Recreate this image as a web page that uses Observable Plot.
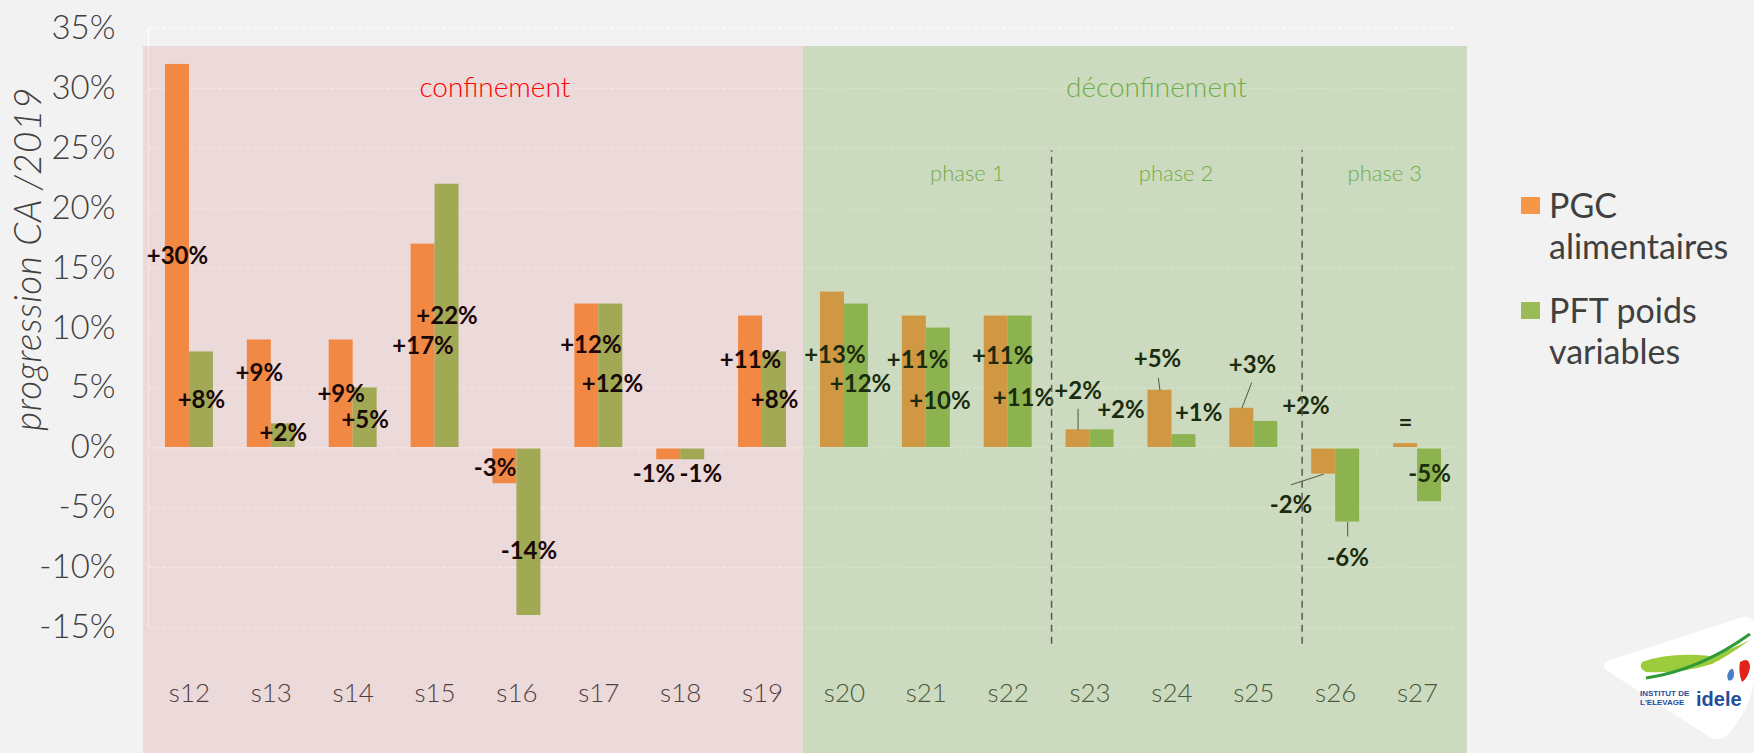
<!DOCTYPE html>
<html>
<head>
<meta charset="utf-8">
<script src="https://cdn.jsdelivr.net/npm/d3@7"></script>
<script src="https://cdn.jsdelivr.net/npm/@observablehq/plot@0.6"></script>
<style>
  html, body { margin: 0; padding: 0; background: #f2f2f2; }
  #wrap { position: relative; width: 1754px; height: 753px; overflow: hidden; background: #f2f2f2; font-family: Lato, "Open Sans", sans-serif; }
  #chart { position: absolute; left: 0; top: 0; }
  #ylabel { position: absolute; left: 26px; top: 259px; transform: translate(-50%, -50%) rotate(-90deg); white-space: nowrap;
            font-size: 37px; letter-spacing: 0.5px; font-style: italic; font-weight: 300; color: #404040; }
  .leg { position: absolute; left: 1521px; font-size: 34px; line-height: 41px; color: #404040; }
  .leg .sw { position: absolute; left: 0; width: 19px; height: 17px; }
  .leg .tx { position: absolute; left: 28px; white-space: nowrap; }
  #logo { position: absolute; left: 1600px; top: 612px; }
</style>
</head>
<body>
<div id="wrap">
  <div id="chart"></div>
  <div id="ylabel">progression CA /2019</div>
  <div id="legend"></div>
  <svg id="logo" width="154" height="135" viewBox="0 0 154 135">
    <path d="M6 58 Q0 52 10 48 L140 6 Q154 2 154 14 L154 70 Q150 96 130 120 Q120 132 108 124 Z" fill="#ffffff"/>
    <path d="M42 50 Q70 40 110 44 Q130 38 150 28 Q128 44 112 52 Q80 62 46 60 Q38 56 42 50 Z" fill="#9ccb3b"/>
    <path d="M46 66 Q100 58 150 22" stroke="#2e9a3a" stroke-width="3" fill="none"/>
    <path d="M140 50 Q150 44 150 56 Q148 66 142 70 Q138 60 140 50 Z" fill="#e2231a"/>
    <path d="M130 58 Q134 54 134 64 Q132 70 128 68 Q126 62 130 58 Z" fill="#4a7cc2"/>
    <text x="40" y="84" font-family="Liberation Sans, Arial, sans-serif" font-size="8" font-weight="700" fill="#1f4e9c">INSTITUT DE</text>
    <text x="40" y="93" font-family="Liberation Sans, Arial, sans-serif" font-size="8" font-weight="700" fill="#1f4e9c">L'ELEVAGE</text>
    <text x="96" y="94" font-family="Liberation Sans, Arial, sans-serif" font-size="20" font-weight="700" fill="#1f4e9c">idele</text>
  </svg>
</div>
<script>
// ---- data ----
const weeks = ["s12","s13","s14","s15","s16","s17","s18","s19","s20","s21","s22","s23","s24","s25","s26","s27"];
const seriesNames = ["PGC alimentaires", "PFT poids variables"];
const seriesColors = ["#f79646", "#9bbb59"];
const pgcValues = [32, 9, 9, 17, -3, 12, -1, 11, 13, 11, 11, 1.5, 4.8, 3.3, -2.2, 0.35];
const pftValues = [8, 2, 5, 22, -14, 12, -1, 8, 12, 10, 11, 1.5, 1.1, 2.2, -6.2, -4.5];
const pgcLabels = ["+30%","+9%","+9%","+17%","-3%","+12%","-1%","+11%","+13%","+11%","+11%","+2%","+5%","+3%","-2%","="];
const pftLabels = ["+8%","+2%","+5%","+22%","-14%","+12%","-1%","+8%","+12%","+10%","+11%","+2%","+1%","+2%","-6%","-5%"];
const yTicks = [-15, -10, -5, 0, 5, 10, 15, 20, 25, 30, 35];

// periods (by week range) and sub-phases
const periods = [
  {name: "confinement", first: "s12", last: "s19", tint: "rgb(204,57,65)", tintOpacity: 0.13, textColor: "#ff0000", labelAt: 3.73},
  {name: "déconfinement", first: "s20", last: "s27", tint: "rgb(105,160,57)", tintOpacity: 0.27, textColor: "#70ad47", labelAt: 11.81}
];
const subPhases = [{name: "phase 1", at: 9.5}, {name: "phase 2", at: 12.05}, {name: "phase 3", at: 14.6}];
const phaseBreaks = [10.53, 13.59];

// manual label nudges: [weeks, % points]
const pgcNudge = [[0,0],[0,1.68],[0,0],[0,0],[-0.12,-0.25],[0.05,2.55],[-0.18,-1.75],[0,1.84],[0.03,1.26],[0.04,1.84],[0.08,2.1],[0,4.0],[-0.03,5.0],[0.13,5.26],[-0.40,-3.74],[0,1.9]];
const pftNudge = [[0,0],[0,0.17],[0,-0.17],[0,0],[0,-1.68],[0.02,-0.67],[0.1,-1.75],[0,0],[0.05,-0.74],[0.02,-1.16],[0.04,-1.33],[0.23,2.34],[0.18,2.29],[0.49,2.4],[0,-6.09],[0,0]];
// leader lines: from bar end, [dx weeks, dy % points]
const leaders = [
  {week: "s23", s: 0, d: [0, 1.76]},
  {week: "s24", s: 0, d: [-0.02, 1.04]},
  {week: "s25", s: 0, d: [0.12, 2.13]},
  {week: "s26", s: 0, d: [-0.40, -0.89]},
  {week: "s26", s: 1, d: [0, -1.2]}
];

// ---- build ----
const barWidth = 0.293; // in week units
const rows = weeks.flatMap((w, i) => [
  {week: w, i, s: 0, value: pgcValues[i], label: pgcLabels[i], nudge: pgcNudge[i]},
  {week: w, i, s: 1, value: pftValues[i], label: pftLabels[i], nudge: pftNudge[i]}
]);
const center = d => d.i + (d.s === 0 ? -1 : 1) * barWidth / 2;
const rowOf = (w, s) => rows.find(r => r.week === w && r.s === s);
const leaderRows = leaders.map(l => ({...rowOf(l.week, l.s), d: l.d}));
const idx = w => weeks.indexOf(w);

const font = "Lato, 'Open Sans', sans-serif";

const periodRect = (p, opts) => Plot.rect([p], {
  x1: d => idx(d.first) - 0.5, x2: d => idx(d.last) + 0.5,
  fill: d => d.tint, fillOpacity: d => d.tintOpacity,
  insetTop: 18, insetBottom: -126, ...opts
});

const chart = Plot.plot({
  width: 1754, height: 753,
  marginLeft: 148, marginRight: 296, marginTop: 28, marginBottom: 126,
  x: {domain: [-0.5, 15.5]},
  y: {domain: [-15, 35]},
  style: {background: "transparent", fontFamily: font, overflow: "visible"},
  marks: [
    Plot.gridY(yTicks, {stroke: "#ffffff", strokeOpacity: 1, strokeDasharray: "4,3"}),
    Plot.ruleX([-0.5], {y1: -15, y2: 35, stroke: "#ffffff"}),
    Plot.rect(rows, {
      x1: d => d.i + (d.s === 0 ? -barWidth : 0),
      x2: d => d.i + (d.s === 0 ? 0 : barWidth),
      y1: 0, y2: "value",
      fill: d => seriesColors[d.s]
    }),
    Plot.ruleY([0], {stroke: "#f8f8f8", strokeWidth: 1.5}),
    Plot.ruleX(d3.range(weeks.length + 1).map(k => k - 0.5), {y1: 0, y2: 0, insetBottom: -8, stroke: "#f8f8f8"}),
    Plot.link(leaderRows, {
      x1: center, y1: "value",
      x2: d => center(d) + d.d[0], y2: d => d.value + d.d[1],
      stroke: "#404040", strokeWidth: 1
    }),
    Plot.text(rows, {
      x: d => center(d) + d.nudge[0],
      y: d => d.value / 2 + d.nudge[1],
      text: "label", fontSize: 24, fontWeight: 700, fill: "#000000"
    }),
    Plot.axisX({ticks: d3.range(weeks.length), tickFormat: i => weeks[i], tickSize: 0, tickPadding: 56,
                fontSize: 26, fontWeight: 300, color: "#404040", label: null}),
    Plot.axisY({ticks: yTicks, tickFormat: d => d + "%", tickSize: 0, tickPadding: 33,
                fontSize: 33, fontWeight: 300, color: "#404040", label: null}),
    periodRect(periods[0], {insetLeft: -5}),
    periodRect(periods[1], {insetRight: -9}),
    Plot.ruleX(phaseBreaks, {y1: -16.4, y2: 24.8, stroke: "#595959", strokeWidth: 1.5, strokeDasharray: "7,5"}),
    Plot.text(periods, {x: "labelAt", y: 30, text: "name", fill: d => d.textColor, fontSize: 28, fontWeight: 300}),
    Plot.text(subPhases, {x: "at", y: 22.9, text: "name", fill: "#70ad47", fontSize: 22, fontWeight: 300})
  ]
});
document.getElementById("chart").appendChild(chart);

// legend
const legendTops = [183.5, 288.5];
const legendLines = [["PGC", "alimentaires"], ["PFT poids", "variables"]];
const legend = document.getElementById("legend");
seriesNames.forEach((name, k) => {
  const div = document.createElement("div");
  div.className = "leg";
  div.style.top = legendTops[k] + "px";
  div.innerHTML = `<div class="sw" style="top:${13.5}px;background:${seriesColors[k]}"></div>` +
    `<div class="tx">${legendLines[k].join("<br>")}</div>`;
  legend.appendChild(div);
});
</script>
</body>
</html>
